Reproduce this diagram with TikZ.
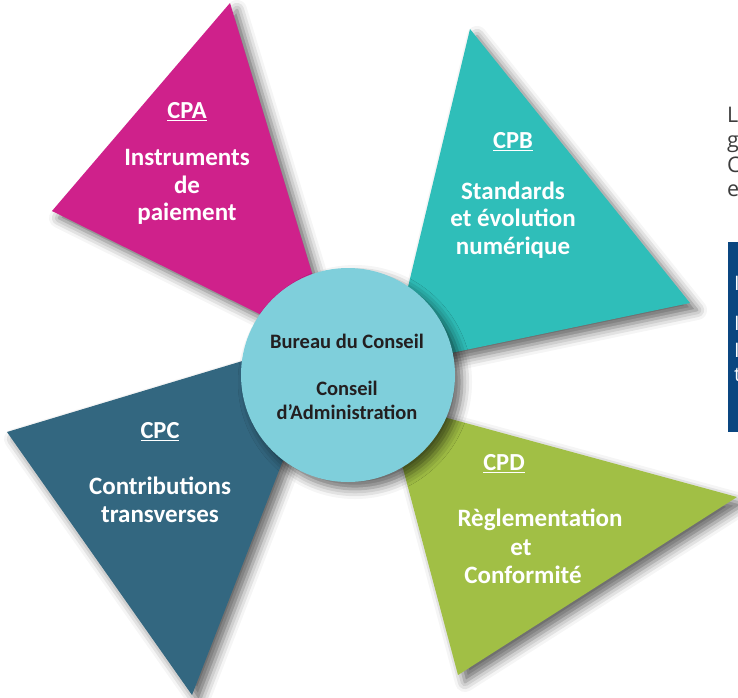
\documentclass[tikz,border=0pt]{standalone}
\usepackage{fontspec}
\setmainfont{Carlito}
\newfontfamily\sidefont{Open Sans}
\usetikzlibrary{shadows.blur}

\definecolor{cpaMagenta}{RGB}{207,33,139}
\definecolor{cpbTeal}{RGB}{47,190,185}
\definecolor{cpcSlate}{RGB}{51,103,128}
\definecolor{cpdGreen}{RGB}{161,191,69}
\definecolor{bureauCyan}{RGB}{127,207,219}
\definecolor{sideBlue}{RGB}{10,70,128}
\definecolor{darkText}{RGB}{35,31,32}
\definecolor{sideGray}{RGB}{60,60,60}

\begin{document}
\begin{tikzpicture}[x=1pt, y=-1pt,
    tri shadow/.style={blur shadow={shadow xshift=7pt, shadow yshift=-7pt,
        shadow blur radius=10pt, shadow opacity=60}},
    cptitle/.style={text=white, inner sep=0pt, font=\bfseries\fontsize{24.5}{27.5}\selectfont},
    cpbody/.style={text=white, inner sep=0pt, align=center, font=\bfseries\fontsize{25}{27.5}\selectfont}]
    \useasboundingbox (0, 0) rectangle (738, 697);
    \clip (0, 0) rectangle (738, 697);

    % corners of the four triangles
    \coordinate (a1) at (230, 3);   \coordinate (a2) at (52, 211);  \coordinate (a3) at (336, 352);
    \coordinate (b1) at (470, 29);  \coordinate (b2) at (690, 303); \coordinate (b3) at (389, 366);
    \coordinate (c1) at (7, 432);   \coordinate (c2) at (192, 695); \coordinate (c3) at (332, 334);
    \coordinate (d1) at (737, 497); \coordinate (d2) at (458, 675); \coordinate (d3) at (385, 401);

    \fill[cpcSlate, tri shadow] (c1) -- (c2) -- (c3) -- cycle;
    \fill[cpaMagenta, tri shadow] (a1) -- (a2) -- (a3) -- cycle;
    \fill[cpdGreen, tri shadow] (d1) -- (d2) -- (d3) -- cycle;
    \fill[cpbTeal, tri shadow] (b1) -- (b2) -- (b3) -- cycle;

    % centre
    \node[circle, fill=bureauCyan, minimum size=214pt, inner sep=0pt, tri shadow] (bureau) at (348, 375) {};
    \node[text=darkText, align=center, font=\bfseries\fontsize{20.5}{24}\selectfont] (bureauText) at (347, 377)
        {Bureau du Conseil\\[23pt]Conseil\\d’Administration};

    % labels
    \node[cptitle] (cpa) at (187, 112) {\underline{CPA}};
    \node[cpbody] (cpaText) at (187, 187) {Instruments\\de\\paiement};
    \node[cptitle] (cpb) at (513, 142) {\underline{CPB}};
    \node[cpbody] (cpbText) at (513, 220) {Standards\\et évolution\\numérique};
    \node[cptitle] (cpc) at (160, 432) {\underline{CPC}};
    \node[cpbody] (cpcText) at (160, 500) {Contributions\\transverses};
    \node[cptitle] (cpd) at (504, 464) {\underline{CPD}};
    \node[cpbody] (cpdLine1) at (540, 520) {Règlementation};
    \node[cpbody] (cpdLine2) at (521, 548) {et};
    \node[cpbody] (cpdLine3) at (523, 575) {Conformité};

    % cut-off text on the right
    \foreach \ch/\y in {L/122, g/147, C/172, e/196}
        \node[anchor=base west, inner sep=0pt, text=sideGray, font=\sidefont\fontsize{21.5}{25}\selectfont] (side\ch) at (727, \y) {\ch};
    \fill[sideBlue] (728, 242) rectangle (745, 432);
    \foreach \ch/\y/\n in {I/290/1, I/330/2, I/357/3, t/381/4}
        \node[anchor=base west, inner sep=0pt, text=white, font=\sidefont\fontsize{20}{22}\selectfont] (boxLine\n) at (734, \y) {\ch};
\end{tikzpicture}
\end{document}
